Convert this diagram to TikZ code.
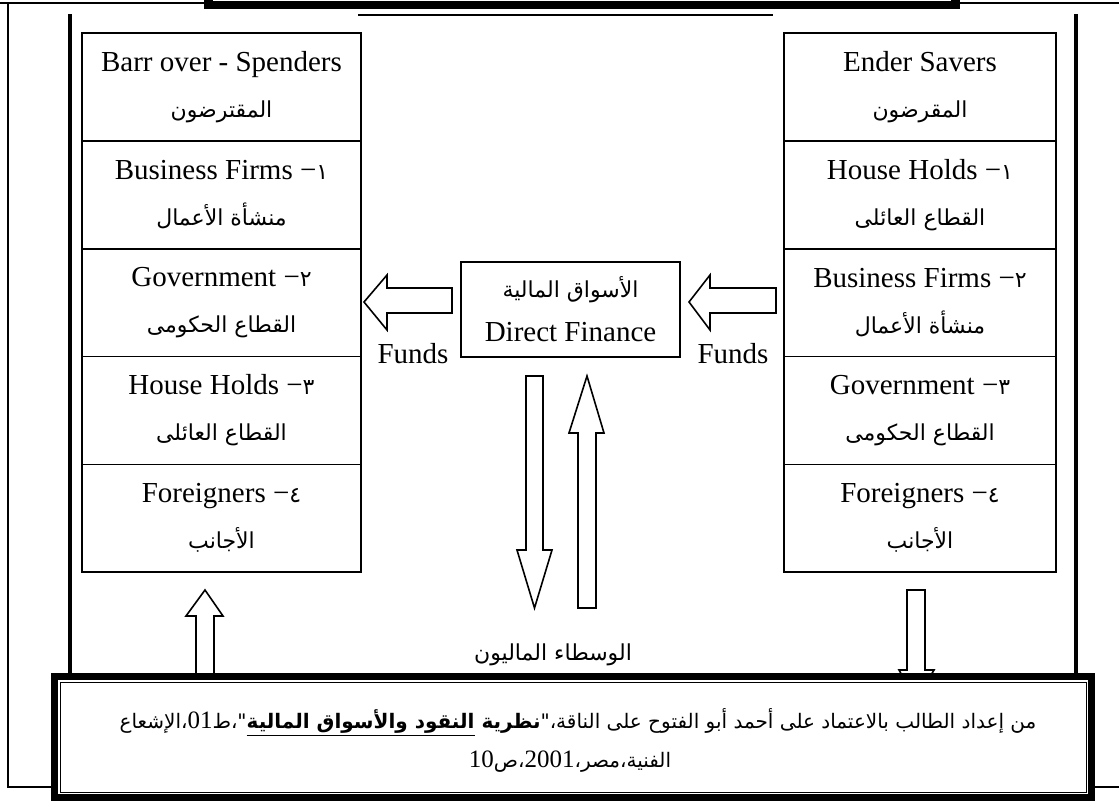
\documentclass[tikz,border=0pt]{standalone}
\usepackage{fontspec}
\setmainfont{Liberation Serif}
\newfontfamily\arabicfont[Script=Arabic]{DejaVu Sans}
\TeXXeTstate=1
\usetikzlibrary{positioning}

\newcommand{\artxt}[1]{{\arabicfont\fontsize{22}{22}\selectfont\beginR #1\endR}}
\newcommand{\ardig}[1]{{\arabicfont\fontsize{22}{22}\selectfont #1}}
\newcommand{\srcfont}{\arabicfont\fontsize{20}{20}\selectfont}
\newcommand{\srcnum}[1]{\beginL{\rmfamily\fontsize{25}{25}\selectfont #1}\endL}

\tikzset{
  cell/.style={draw, line width=1.6pt, minimum height=107.8pt, inner sep=0pt,
    align=center, font=\fontsize{29}{46}\selectfont},
  lcell/.style={cell, minimum width=279pt},
  rcell/.style={cell, minimum width=272pt},
  hollow/.style={draw, fill=white, line width=1.6pt, line join=miter},
  lbl/.style={inner sep=0pt, font=\fontsize{29}{29}\selectfont},
}

\begin{document}
\begin{tikzpicture}[x=1pt, y=-1pt]
\useasboundingbox (0,0) rectangle (1119,801);
\clip (0,0) rectangle (1119,801);
% outer frame
\draw[line width=1.5pt] (0,3) -- (1119,3);
\draw[line width=1.5pt] (8,3) -- (8,787) -- (1119,787);
% side rules
\draw[line width=4.5pt] (70,14) -- (70,676);
\draw[line width=4.5pt] (1076,14) -- (1076,676);
% title box (cut off)
\fill[black] (204,-20) rectangle (960,9);
\fill[white] (213,-20) rectangle (951,1);
\draw[line width=0.8pt] (216,-20) -- (216,-1.5) -- (948,-1.5) -- (948,-20);
\draw[line width=2pt] (358,15) -- (773,15);

% borrowers
\node[lcell] (b0) at (221.5,87) {Barr over - Spenders\\\artxt{المقترضون}};
\node[lcell] (b1) at (221.5,194.8) {Business Firms −\ardig{١}\\\artxt{منشأة الأعمال}};
\node[lcell] (b2) at (221.5,302.6) {Government −\ardig{٢}\\\artxt{القطاع الحكومى}};
\node[lcell] (b3) at (221.5,410.4) {House Holds −\ardig{٣}\\\artxt{القطاع العائلى}};
\node[lcell] (b4) at (221.5,518.2) {Foreigners −\ardig{٤}\\\artxt{الأجانب}};

% lenders
\node[rcell] (s0) at (920,87) {Ender Savers\\\artxt{المقرضون}};
\node[rcell] (s1) at (920,194.8) {House Holds −\ardig{١}\\\artxt{القطاع العائلى}};
\node[rcell] (s2) at (920,302.6) {Business Firms −\ardig{٢}\\\artxt{منشأة الأعمال}};
\node[rcell] (s3) at (920,410.4) {Government −\ardig{٣}\\\artxt{القطاع الحكومى}};
\node[rcell] (s4) at (920,518.2) {Foreigners −\ardig{٤}\\\artxt{الأجانب}};

% markets
\node[draw, line width=1.6pt, minimum width=219pt, minimum height=95pt, inner sep=0pt,
  align=center, font=\fontsize{29}{44}\selectfont] (mkt) at (570.5,309.5)
  {\artxt{الأسواق المالية}\\Direct Finance};

% fund arrows
\draw[hollow] (364,302) -- (387,275) -- (387,288) -- (452,288) -- (452,313) -- (387,313) -- (387,330) -- cycle;
\draw[hollow] (689,302) -- (710,275) -- (710,288) -- (776,288) -- (776,313) -- (710,313) -- (710,330) -- cycle;
\node[lbl] (fl) at (413,354) {Funds};
\node[lbl] (fr) at (733,354) {Funds};

% intermediaries
\draw[hollow] (526,376) -- (543,376) -- (543,550) -- (552,550) -- (534.5,608) -- (517,550) -- (526,550) -- cycle;
\draw[hollow] (578,608) -- (596,608) -- (596,433) -- (604,433) -- (587,376) -- (569,433) -- (578,433) -- cycle;
\node (mid) at (553,655) {\artxt{الوسطاء الماليون}};

\draw[hollow] (196,690) -- (196,616) -- (186,616) -- (205,590) -- (223,616) -- (214,616) -- (214,690);
\draw[hollow] (907,590) -- (925,590) -- (925,670) -- (934,670) -- (916,700) -- (899,670) -- (907,670) -- cycle;

% source box
\node[draw, fill=white, line width=7pt, minimum width=1037pt, minimum height=121pt, inner sep=0pt] (src) at (573,737) {};
\draw[line width=1pt] ([shift={(6,6)}]src.north west) rectangle ([shift={(-6,-6)}]src.south east);
\draw[line width=1pt] ([shift={(9,9)}]src.north west) rectangle ([shift={(-9,-9)}]src.south east);
\node (cite1) at (578,722) {\srcfont\beginR من إعداد الطالب بالاعتماد على أحمد أبو الفتوح على الناقة،"\textbf{نظرية \underline{\beginR النقود والأسواق المالية\endR}}"،ط\srcnum{01}،الإشعاع\endR};
\node (cite2) at (570,762) {\srcfont\beginR الفنية،مصر،\srcnum{2001}،ص\srcnum{10}\endR};
\end{tikzpicture}
\end{document}
